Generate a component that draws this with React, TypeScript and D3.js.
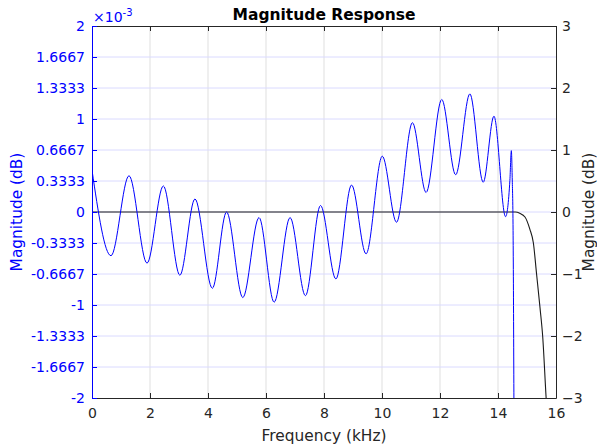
import React, { useEffect, useRef } from 'react';
import * as d3 from 'd3';

// x axis (kHz)
const freqTicks = [0, 2, 4, 6, 8, 10, 12, 14, 16];

// left axis (x 1e-3 dB)
const leftTickValues = [-2, -5 / 3, -4 / 3, -1, -2 / 3, -1 / 3, 0, 1 / 3, 2 / 3, 1, 4 / 3, 5 / 3, 2];
const leftTickLabels = ['-2', '-1.6667', '-1.3333', '-1', '-0.6667', '-0.3333', '0', '0.3333', '0.6667', '1', '1.3333', '1.6667', '2'];

// right axis (dB)
const rightTicks = [-3, -2, -1, 0, 1, 2, 3];

// passband ripple (blue, left axis) - peaks/troughs
const rippleFreq = [0, 0.655, 1.276, 1.897, 2.46, 3.03, 3.55, 4.15, 4.64, 5.2, 5.76, 6.28, 6.83, 7.36, 7.88, 8.41, 8.95, 9.45, 10.01, 10.5, 11.05, 11.52, 12.06, 12.54, 13.03, 13.49, 13.86, 14.26, 14.41, 14.46, 14.49, 14.52, 14.56];
const rippleMag = [0.45, -0.47, 0.39, -0.55, 0.28, -0.68, 0.14, -0.82, 0.0, -0.92, -0.06, -0.97, -0.06, -0.9, 0.07, -0.72, 0.29, -0.45, 0.6, -0.11, 0.96, 0.21, 1.21, 0.4, 1.27, 0.32, 1.03, -0.05, 0.34, 0.66, 0.37, -0.2, -3];

// full response (black, right axis)
const fullFreq = [0, 14.6, 14.75, 14.93, 15.1, 15.22, 15.33, 15.45, 15.54, 15.66, 15.7];
const fullDb = [0, 0, -0.02, -0.08, -0.28, -0.5, -1.0, -1.55, -2.0, -3.0, -3.3];

const W = 597;
const H = 447;
const margin = { top: 26, right: 41, bottom: 49, left: 92 };
const FONT = 'DejaVu Sans, sans-serif';
const BLUE = '#0000ff';
const DARK = '#262626';

const App: React.FC = () => {
  const svgRef = useRef<SVGSVGElement>(null);

  useEffect(() => {
    if (!svgRef.current) return;
    const svg = d3.select(svgRef.current);
    svg.selectAll('*').remove();

    const w = W - margin.left - margin.right;
    const h = H - margin.top - margin.bottom;

    const x = d3.scaleLinear().domain([0, 16]).range([0, w]);
    const yL = d3.scaleLinear().domain([-2, 2]).range([h, 0]);
    const yR = d3.scaleLinear().domain([-3, 3]).range([h, 0]);

    svg.append('defs').append('clipPath').attr('id', 'plot-clip')
      .append('rect').attr('width', w).attr('height', h);

    const g = svg.append('g').attr('transform', `translate(${margin.left},${margin.top})`);

    // grid
    g.append('g').selectAll('line').data(freqTicks.slice(1, -1)).enter().append('line')
      .attr('x1', d => x(d)).attr('x2', d => x(d)).attr('y1', 0).attr('y2', h)
      .attr('stroke', '#dfdfdf').attr('stroke-width', 1);
    g.append('g').selectAll('line').data(leftTickValues.slice(1, -1)).enter().append('line')
      .attr('x1', 0).attr('x2', w).attr('y1', d => yL(d)).attr('y2', d => yL(d))
      .attr('stroke', '#dadaff').attr('stroke-width', 1);

    const plot = g.append('g').attr('clip-path', 'url(#plot-clip)');

    const refLine = d3.line<number>()
      .x((_, i) => x(fullFreq[i]))
      .y(d => yR(d))
      .curve(d3.curveMonotoneX);
    plot.append('path').datum(fullDb)
      .attr('fill', 'none').attr('stroke', '#1a1a1a').attr('stroke-width', 1.1)
      .attr('d', refLine);

    const ripLine = d3.line<number>()
      .x((_, i) => x(rippleFreq[i]))
      .y(d => yL(d))
      .curve(d3.curveMonotoneX);
    plot.append('path').datum(rippleMag)
      .attr('fill', 'none').attr('stroke', BLUE).attr('stroke-width', 1)
      .attr('d', ripLine);

    // axes
    const styleAxis = (sel: d3.Selection<SVGGElement, unknown, null, undefined>, color: string) => {
      sel.attr('font-family', FONT).attr('font-size', 14);
      sel.select('.domain').attr('stroke', color);
      sel.selectAll('.tick line').attr('stroke', color);
      sel.selectAll('.tick text').attr('fill', color);
    };

    const xAxis = g.append('g').attr('transform', `translate(0,${h})`)
      .call(d3.axisBottom(x).tickValues(freqTicks).tickSize(-5).tickSizeOuter(0).tickPadding(10));
    styleAxis(xAxis, DARK);

    const xTop = g.append('g')
      .call(d3.axisTop(x).tickValues(freqTicks).tickSize(-5).tickSizeOuter(0).tickFormat(() => ''));
    styleAxis(xTop, DARK);

    const leftAxis = g.append('g')
      .call(d3.axisLeft(yL).tickValues(leftTickValues).tickSize(-5).tickSizeOuter(0).tickPadding(7)
        .tickFormat((_, i) => leftTickLabels[i]));
    styleAxis(leftAxis, BLUE);

    const rightAxis = g.append('g').attr('transform', `translate(${w},0)`)
      .call(d3.axisRight(yR).tickValues(rightTicks).tickSize(-5).tickSizeOuter(0).tickPadding(6)
        .tickFormat(d3.format('d')));
    styleAxis(rightAxis, DARK);

    // exponent label
    const exp = svg.append('text').attr('x', margin.left + 1).attr('y', margin.top - 4)
      .attr('font-family', FONT).attr('font-size', 14).attr('fill', BLUE);
    exp.append('tspan').text('\u00d710');
    exp.append('tspan').attr('font-size', 10).attr('dy', -6).text('-3');

    // title
    svg.append('text').attr('x', margin.left + w / 2).attr('y', 20)
      .attr('text-anchor', 'middle').attr('font-family', FONT).attr('font-size', 15.5)
      .attr('font-weight', 'bold').attr('fill', '#000').text('Magnitude Response');

    // axis labels
    svg.append('text').attr('x', margin.left + w / 2).attr('y', H - 6)
      .attr('text-anchor', 'middle').attr('font-family', FONT).attr('font-size', 15.4)
      .attr('fill', DARK).text('Frequency (kHz)');

    svg.append('text')
      .attr('transform', `translate(22,${margin.top + h / 2}) rotate(-90)`)
      .attr('text-anchor', 'middle').attr('font-family', FONT).attr('font-size', 15.4)
      .attr('fill', BLUE).text('Magnitude (dB)');

    svg.append('text')
      .attr('transform', `translate(594,${margin.top + h / 2}) rotate(-90)`)
      .attr('text-anchor', 'middle').attr('font-family', FONT).attr('font-size', 15.4)
      .attr('fill', DARK).text('Magnitude (dB)');
  }, []);

  return (
    <svg ref={svgRef} width={W} height={H}
      style={{ position: 'absolute', left: 0, top: 0, background: '#fff' }} />
  );
};

export default App;
